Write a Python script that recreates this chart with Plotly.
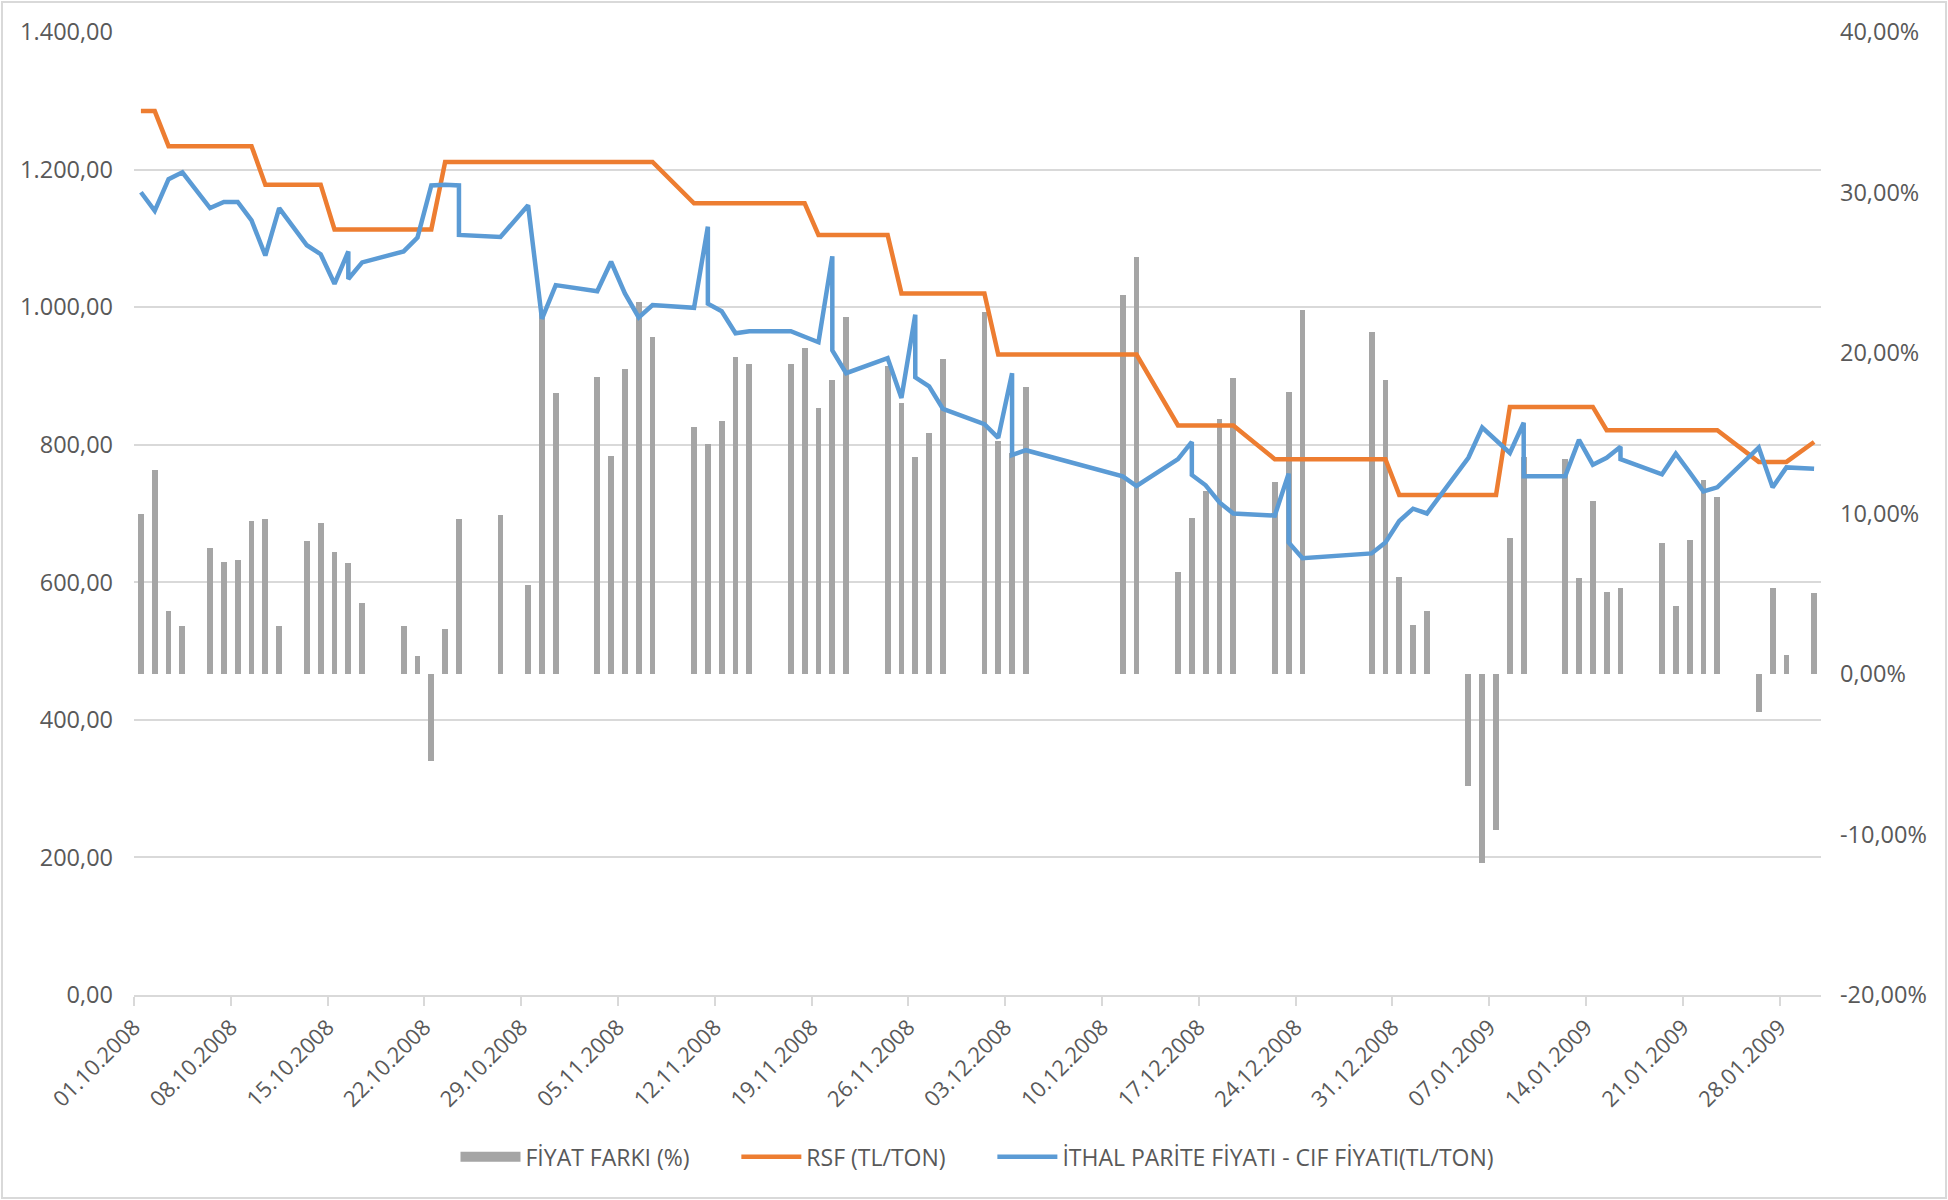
import plotly.graph_objects as go

# günlük veriler (aynı tarih iki kez geçen satırlar kaynak veride de tekrarlı)
dates = [
    "2008-10-01", "2008-10-02", "2008-10-03", "2008-10-04",
    "2008-10-06", "2008-10-07", "2008-10-08", "2008-10-09", "2008-10-10", "2008-10-11",
    "2008-10-13", "2008-10-14", "2008-10-15", "2008-10-16", "2008-10-16", "2008-10-17",
    "2008-10-20", "2008-10-21", "2008-10-22", "2008-10-23", "2008-10-24", "2008-10-24",
    "2008-10-27", "2008-10-29", "2008-10-30", "2008-10-31",
    "2008-11-03", "2008-11-04", "2008-11-05", "2008-11-06", "2008-11-07",
    "2008-11-10", "2008-11-11", "2008-11-11", "2008-11-12", "2008-11-13", "2008-11-14",
    "2008-11-17", "2008-11-18", "2008-11-19", "2008-11-20", "2008-11-20", "2008-11-21",
    "2008-11-24", "2008-11-25", "2008-11-26", "2008-11-26", "2008-11-27", "2008-11-28",
    "2008-12-01", "2008-12-02", "2008-12-03", "2008-12-03", "2008-12-04",
    "2008-12-11", "2008-12-12",
    "2008-12-15", "2008-12-16", "2008-12-16", "2008-12-17", "2008-12-18", "2008-12-19",
    "2008-12-22", "2008-12-23", "2008-12-23", "2008-12-24",
    "2008-12-29", "2008-12-30", "2008-12-31", "2009-01-01", "2009-01-02",
    "2009-01-05", "2009-01-06", "2009-01-07", "2009-01-08", "2009-01-09", "2009-01-09",
    "2009-01-12", "2009-01-13", "2009-01-14", "2009-01-15", "2009-01-16", "2009-01-16",
    "2009-01-19", "2009-01-20", "2009-01-21", "2009-01-22", "2009-01-23",
    "2009-01-26", "2009-01-27", "2009-01-28", "2009-01-30",
]

fiyat_farki = [
    10.0, 12.7, 3.9, 3.0,
    7.85, 7.0, 7.1, 9.55, 9.65, 3.0,
    8.3, 9.4, 7.6, None, 6.9, 4.4,
    3.0, 1.1, -5.4, 2.8, None, 9.65,
    9.9, 5.55, 22.4, 17.5,
    18.5, 13.6, 19.0, 23.2, 21.0,
    15.4, None, 14.35, 15.75, 19.75, 19.3,
    19.3, 20.3, 16.6, None, 18.3, 22.25,
    19.2, 16.9, None, 13.55, 15.0, 19.6,
    22.55, 14.5, None, 13.8, 17.9,
    23.6, 26.0,
    6.35, None, 9.75, 11.4, 15.9, 18.45,
    11.95, None, 17.6, 22.7,
    21.3, 18.3, 6.05, 3.05, 3.9,
    -7.0, -11.75, -9.7, 8.5, None, 13.55,
    13.4, 6.0, 10.8, 5.1, None, 5.35,
    8.15, 4.25, 8.35, 12.1, 11.05,
    -2.35, 5.35, 1.2, 5.05,
]

rsf = [
    1285, 1285, 1234, 1234,
    1234, 1234, 1234, 1234, 1178, 1178,
    1178, 1178, 1113, 1113, 1113, 1113,
    1113, 1113, 1113, 1211, 1211, 1211,
    1211, 1211, 1211, 1211,
    1211, 1211, 1211, 1211, 1211,
    1151, 1151, 1151, 1151, 1151, 1151,
    1151, 1151, 1105, 1105, 1105, 1105,
    1105, 1020, 1020, 1020, 1020, 1020,
    1020, 931, 931, 931, 931,
    931, 931,
    828, 828, 828, 828, 828, 828,
    779, 779, 779, 779,
    779, 779, 727, 727, 727,
    727, 727, 727, 855, 855, 855,
    855, 855, 855, 821, 821, 821,
    821, 821, 821, 821, 821,
    775, 775, 775, 804,
]

ithal_parite = [
    1167, 1140, 1186, 1196,
    1144, 1153, 1153, 1126, 1075, 1144,
    1090, 1077, 1034, 1081, 1041, 1065,
    1081, 1101, 1177, 1178, 1177, 1105,
    1102, 1148, 983, 1032,
    1023, 1066, 1020, 985, 1003,
    999, 1117, 1005, 994, 962, 965,
    965, 957, 949, 1074, 937, 904,
    926, 868, 989, 898, 885, 852,
    830, 810, 904, 785, 792,
    754, 740,
    779, 804, 756, 741, 716, 700,
    697, 758, 658, 635,
    642, 658, 689, 707, 700,
    781, 825, 806, 788, 832, 754,
    754, 807, 771, 781, 797, 779,
    757, 787, 760, 732, 738,
    796, 738, 767, 765,
]

pct_ticks = [-20, -10, 0, 10, 20, 30, 40]
pct_labels = ["-20,00%", "-10,00%", "0,00%", "10,00%", "20,00%", "30,00%", "40,00%"]

DAY = 86400000
TXT = "#595959"
GRID = "#d9d9d9"
GRAY = "#a5a5a5"
FONT = "Open Sans"
PAD = "\u00a0" * 7  # legend aralığı

fig = go.Figure()
fig.add_trace(go.Bar(
    x=dates, y=fiyat_farki, name="FİYAT FARKI (%)", showlegend=False,
    marker_color=GRAY, marker_line_width=0,
    width=0.42 * DAY, xperiod=DAY, xperiodalignment="middle",
    yaxis="y", legendgroup="fark",
))
# sadece legend için: Excel'deki geniş gri kutucuk
fig.add_trace(go.Scatter(
    x=[None], y=[None], name="FİYAT FARKI (%)" + PAD, mode="lines",
    line=dict(color=GRAY, width=14), yaxis="y", legendgroup="fark",
))
fig.add_trace(go.Scatter(
    x=dates, y=rsf, name="RSF (TL/TON)" + PAD, mode="lines",
    line=dict(color="#ed7d31", width=4.5),
    xperiod=DAY, xperiodalignment="middle", yaxis="y2",
))
fig.add_trace(go.Scatter(
    x=dates, y=ithal_parite, name="İTHAL PARİTE FİYATI - CIF FİYATI(TL/TON)", mode="lines",
    line=dict(color="#5b9bd5", width=4.5),
    xperiod=DAY, xperiodalignment="middle", yaxis="y2",
))

ml, mr, mt, mb = 134, 127, 32, 205
W, H = 1948, 1200
pw, ph = W - ml - mr, H - mt - mb

fig.update_layout(
    width=W, height=H,
    margin=dict(l=ml, r=mr, t=mt, b=mb, pad=0),
    paper_bgcolor="white", plot_bgcolor="white",
    separators=",.",
    font=dict(family=FONT, size=23, color=TXT),
    showlegend=True,
    legend=dict(orientation="h", x=0.5, xanchor="center", y=-0.168, yanchor="middle",
                font=dict(size=23, color=TXT), traceorder="normal", itemwidth=60),
    bargap=0,
    xaxis=dict(
        type="date", range=["2008-10-01", "2009-01-31"],
        tick0="2008-10-01", dtick=7 * DAY, tickformat="%d.%m.%Y", tickangle=-45,
        showgrid=False, showline=True, linecolor=GRID, linewidth=1.5,
        ticks="outside", ticklen=9, tickcolor=GRID, tickwidth=1.5,
        tickfont=dict(size=22, color=TXT), zeroline=False,
    ),
    yaxis=dict(
        side="right", range=[-20, 40], tickvals=pct_ticks, ticktext=pct_labels,
        showgrid=False, zeroline=False, showline=False, ticks="",
        ticklabelstandoff=18, tickfont=dict(size=23.5, color=TXT),
    ),
    yaxis2=dict(
        overlaying="y", side="left", range=[0, 1400], dtick=200, tickformat=",.2f",
        showgrid=True, gridcolor=GRID, gridwidth=1.5, zeroline=False, showline=False,
        ticks="", ticklabelstandoff=20, tickfont=dict(size=23.5, color=TXT),
    ),
    shapes=[dict(
        type="rect", xref="paper", yref="paper",
        x0=-(ml - 2) / pw, x1=1 + (mr - 2) / pw,
        y0=-(mb - 2) / ph, y1=1 + (mt - 2) / ph,
        line=dict(color=GRID, width=2), fillcolor="rgba(0,0,0,0)", layer="below",
    )],
)

fig.write_html("out.html", config={"displayModeBar": False},
               post_script="document.body.style.margin='0px';document.body.style.overflow='hidden';")
